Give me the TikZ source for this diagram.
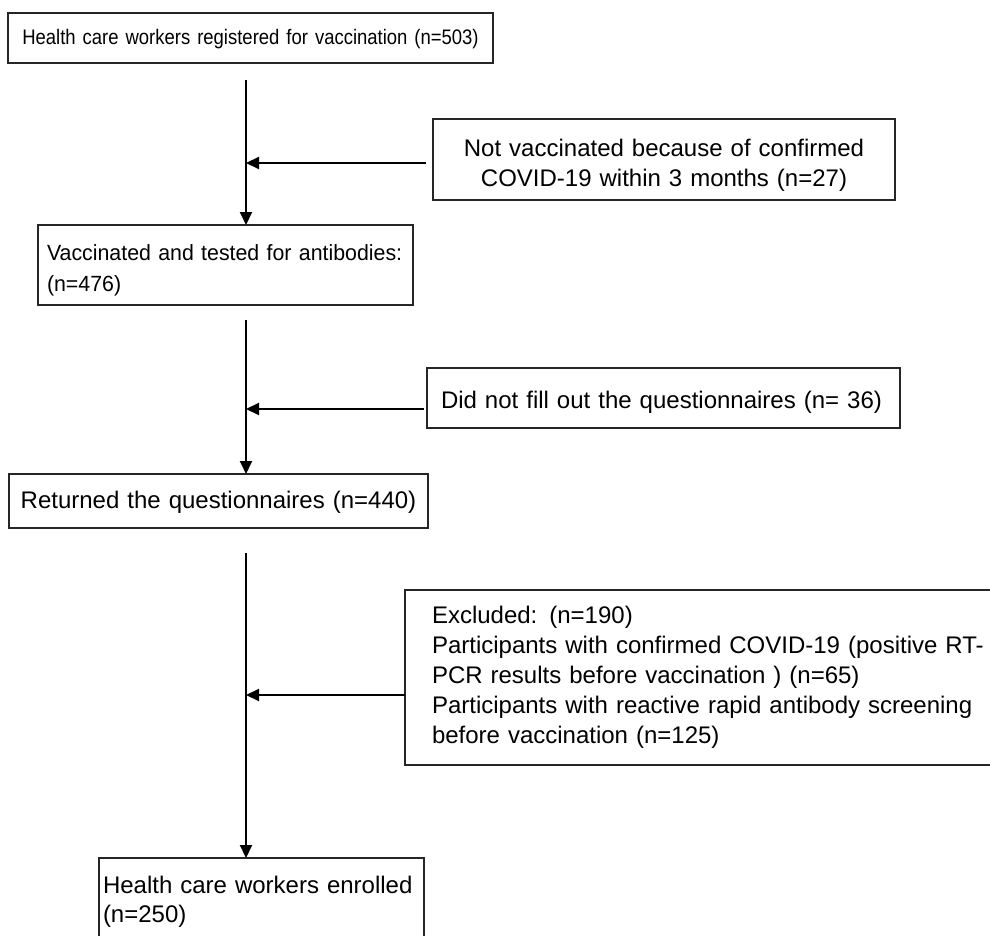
\documentclass[tikz,border=0pt]{standalone}
\usepackage{fontspec}
\setmainfont{Liberation Sans}
\newfontfamily\narrowfont{Liberation Sans}[FakeStretch=0.88]
\newfontfamily\slightfont{Liberation Sans}[FakeStretch=0.97]
\usetikzlibrary{arrows.meta}
\begin{document}
\begin{tikzpicture}[x=1pt,y=-1pt,
  box/.style={draw=black!85, line width=1.2pt, anchor=north west, inner ysep=0pt, outer sep=0pt},
  flow/.style={draw=black, line width=2pt, -{Triangle[length=13pt,width=12pt]}}]
\useasboundingbox (0,0) rectangle (990,936);
\clip (0,0) rectangle (990,936);
\fill[white] (0,0) rectangle (990,936);

\node[box, inner xsep=0pt, text width=485pt, text height=32pt, text depth=18pt, align=center,
      font=\narrowfont\fontsize{21}{28}\selectfont] (reg) at (8,13)
  {Health care workers registered for vaccination (n=503)};

\node[box, inner xsep=0pt, text width=462pt, text height=38pt, text depth=43pt, align=center,
      font=\fontsize{24}{30}\selectfont] (nv) at (433,119)
  {Not vaccinated because of confirmed\\COVID-19 within 3 months (n=27)};

\node[box, inner xsep=9pt, text width=357pt, text height=35pt, text depth=45pt, align=left,
      font=\slightfont\fontsize{22}{31}\selectfont] (vac) at (38,225)
  {\mbox{Vaccinated and tested for antibodies:}\\(n=476)};

\node[box, inner xsep=14pt, text width=445pt, text height=40pt, text depth=20pt, align=left,
      font=\fontsize{24}{30}\selectfont] (dn) at (427,368)
  {\mbox{Did not fill out the questionnaires (n= 36)}};

\node[box, inner xsep=0pt, text width=419pt, text height=34pt, text depth=20pt, align=center,
      font=\fontsize{24}{30}\selectfont] (ret) at (9,474)
  {\mbox{Returned the questionnaires (n=440)}};

\node[box, inner xsep=27pt, text width=561pt, text height=33pt, text depth=142pt, align=left,
      font=\fontsize{24}{30}\selectfont] (ex) at (405,590)
  {Excluded: (n=190)\\Participants with confirmed COVID-19 (positive RT-\\PCR results before vaccination ) (n=65)\\Participants with reactive rapid antibody screening\\before vaccination (n=125)};

\node[box, inner xsep=4pt, text width=317pt, text height=35pt, text depth=60pt, align=left,
      font=\fontsize{24}{29}\selectfont] (fin) at (99,858)
  {Health care workers enrolled\\(n=250)};

\coordinate (t1) at (246,80);
\draw[flow] (t1) -- (t1 |- vac.north);
\coordinate (s1) at (426,163);
\draw[flow] (s1) -- (t1 |- s1);

\coordinate (t2) at (246,320);
\draw[flow] (t2) -- (t2 |- ret.north);
\coordinate (s2) at (424,409);
\draw[flow] (s2) -- (t2 |- s2);

\coordinate (t3) at (246,553);
\draw[flow] (t3) -- (t3 |- fin.north);
\coordinate (s3) at (405,695);
\draw[flow] (ex.west |- s3) -- (t3 |- s3);
\end{tikzpicture}
\end{document}
